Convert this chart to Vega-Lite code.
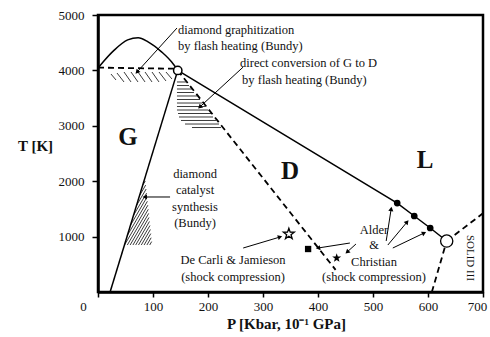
{
  "$schema": "https://vega.github.io/schema/vega-lite/v6.json",
  "width": 385,
  "height": 277,
  "autosize": {"type": "none"},
  "padding": {"left": 98, "top": 15, "right": 7, "bottom": 45},
  "background": "white",
  "config": {
    "view": {"stroke": "black", "strokeWidth": 2.5},
    "font": "Liberation Serif",
    "text": {"font": "Liberation Serif", "color": "#111", "baseline": "middle"}
  },
  "datasets": {
    "melt": [
      {"P": 0, "T": 4040}, {"P": 10, "T": 4160}, {"P": 30, "T": 4370}, {"P": 54, "T": 4550},
      {"P": 73, "T": 4590}, {"P": 91, "T": 4515}, {"P": 116, "T": 4330}, {"P": 134, "T": 4150},
      {"P": 145, "T": 4000}
    ],
    "solid": [
      {"line": "graphite-diamond", "P": 22, "T": 0},
      {"line": "graphite-diamond", "P": 145, "T": 4000},
      {"line": "diamond-liquid", "P": 145, "T": 4000},
      {"line": "diamond-liquid", "P": 544, "T": 1606},
      {"line": "diamond-liquid", "P": 575, "T": 1372},
      {"line": "diamond-liquid", "P": 604, "T": 1155},
      {"line": "diamond-liquid", "P": 634, "T": 920}
    ],
    "dashed": [
      {"line": "graphite-liquid metastable", "P": 0, "T": 4050},
      {"line": "graphite-liquid metastable", "P": 140, "T": 4030},
      {"line": "diamond metastable", "P": 145, "T": 4000},
      {"line": "diamond metastable", "P": 432, "T": 400},
      {"line": "solid III-liquid", "P": 634, "T": 920},
      {"line": "solid III-liquid", "P": 700, "T": 1420},
      {"line": "diamond-solid III", "P": 607, "T": 0},
      {"line": "diamond-solid III", "P": 634, "T": 920}
    ],
    "hatch": [
      {"P": 23.6, "T": 3935, "P2": 32.7, "T2": 3827},
      {"P": 34.5, "T": 3953, "P2": 47.3, "T2": 3791},
      {"P": 47.3, "T": 3971, "P2": 60, "T2": 3791},
      {"P": 60, "T": 3971, "P2": 72.7, "T2": 3791},
      {"P": 72.7, "T": 3971, "P2": 85.5, "T2": 3791},
      {"P": 85.5, "T": 3971, "P2": 98.2, "T2": 3791},
      {"P": 98.2, "T": 3971, "P2": 110.9, "T2": 3791},
      {"P": 110.9, "T": 3971, "P2": 123.6, "T2": 3809},
      {"P": 123.6, "T": 3971, "P2": 134.5, "T2": 3845},

      {"P": 143.6, "T": 3791, "P2": 160, "T2": 3791},
      {"P": 143.6, "T": 3727, "P2": 165.5, "T2": 3727},
      {"P": 143.6, "T": 3664, "P2": 170.9, "T2": 3664},
      {"P": 143.6, "T": 3601, "P2": 174.5, "T2": 3601},
      {"P": 143.6, "T": 3538, "P2": 180, "T2": 3538},
      {"P": 143.6, "T": 3475, "P2": 185.5, "T2": 3475},
      {"P": 143.6, "T": 3411, "P2": 189.1, "T2": 3411},
      {"P": 143.6, "T": 3348, "P2": 194.5, "T2": 3348},
      {"P": 143.6, "T": 3285, "P2": 200, "T2": 3285},
      {"P": 145.5, "T": 3222, "P2": 205.5, "T2": 3222},
      {"P": 147.3, "T": 3159, "P2": 209.1, "T2": 3159},
      {"P": 150.9, "T": 3096, "P2": 214.5, "T2": 3096},
      {"P": 158.2, "T": 3032, "P2": 220, "T2": 3032},
      {"P": 170.9, "T": 2969, "P2": 223.6, "T2": 2969},

      {"P": 48.2, "T": 848, "P2": 90.7, "T2": 1567},
      {"P": 53.8, "T": 1029, "P2": 89.8, "T2": 1637},
      {"P": 59.3, "T": 1209, "P2": 89.1, "T2": 1713},
      {"P": 64.9, "T": 1390, "P2": 88.4, "T2": 1785},
      {"P": 70.5, "T": 1570, "P2": 87.6, "T2": 1859},
      {"P": 76.2, "T": 1751, "P2": 86.7, "T2": 1930},
      {"P": 81.6, "T": 1931, "P2": 86.0, "T2": 2005},
      {"P": 53.3, "T": 848, "P2": 91.5, "T2": 1493},
      {"P": 58.4, "T": 848, "P2": 92.2, "T2": 1419},
      {"P": 63.5, "T": 848, "P2": 92.7, "T2": 1345},
      {"P": 68.5, "T": 848, "P2": 93.6, "T2": 1273},
      {"P": 73.6, "T": 848, "P2": 94.5, "T2": 1200},
      {"P": 78.7, "T": 848, "P2": 95.3, "T2": 1128},
      {"P": 83.8, "T": 848, "P2": 96.0, "T2": 1054},
      {"P": 88.9, "T": 848, "P2": 96.7, "T2": 980},
      {"P": 94.0, "T": 848, "P2": 97.6, "T2": 910}
    ],
    "arrows": [
      {"P": 71, "T": 3971, "Pt": 143.6, "Tt": 4765},
      {"P": 185, "T": 3339, "Pt": 264, "Tt": 4061},
      {"P": 85, "T": 1715, "Pt": 131, "Tt": 1715},
      {"P": 331, "T": 993, "Pt": 264, "Tt": 794},
      {"P": 400, "T": 794, "Pt": 458, "Tt": 884},
      {"P": 453, "T": 722, "Pt": 469, "Tt": 866},
      {"P": 533, "T": 1498, "Pt": 524, "Tt": 921},
      {"P": 562, "T": 1264, "Pt": 527, "Tt": 848},
      {"P": 593, "T": 1065, "Pt": 536, "Tt": 794}
    ],
    "alder_christian": [
      {"P": 544, "T": 1606}, {"P": 575, "T": 1372}, {"P": 604, "T": 1155}
    ],
    "triple_gdl": [{"P": 145, "T": 4000}],
    "triple_d3l": [{"P": 634, "T": 920}],
    "decarli": [{"P": 347, "T": 1047}],
    "shock_square": [{"P": 382, "T": 776}],
    "shock_star": [{"P": 434, "T": 614}],
    "phases": [
      {"label": "G", "P": 54.5, "T": 2798},
      {"label": "D", "P": 349, "T": 2184},
      {"label": "L", "P": 594.5, "T": 2383}
    ],
    "notes_left": [
      {"label": "diamond graphitization", "P": 145.5, "T": 4729},
      {"label": "by flash heating (Bundy)", "P": 145.5, "T": 4440},
      {"label": "direct conversion of G to D", "P": 258.2, "T": 4133},
      {"label": "by flash heating (Bundy)", "P": 262, "T": 3827}
    ],
    "notes_center": [
      {"label": "diamond", "P": 176.4, "T": 2130},
      {"label": "catalyst", "P": 176.4, "T": 1841},
      {"label": "synthesis", "P": 176.4, "T": 1534},
      {"label": "(Bundy)", "P": 176.4, "T": 1245},
      {"label": "De Carli & Jamieson", "P": 245.5, "T": 578},
      {"label": "(shock compression)", "P": 245.5, "T": 271},
      {"label": "Alder", "P": 501.8, "T": 1119},
      {"label": "&", "P": 501.8, "T": 848},
      {"label": "Christian", "P": 501.8, "T": 541},
      {"label": "(shock compression)", "P": 501.8, "T": 271}
    ],
    "solid3": [{"label": "SOLID III", "P": 676, "T": 614}]
  },
  "encoding": {
    "x": {
      "field": "P",
      "type": "quantitative",
      "scale": {"domain": [0, 700], "nice": false, "zero": false},
      "axis": {
        "title": "P [Kbar, 10⁻¹ GPa]",
        "values": [0, 100, 200, 300, 400, 500, 600, 700],
        "format": "d",
        "grid": false,
        "domainColor": "black",
        "domainWidth": 2.5,
        "tickColor": "black",
        "tickWidth": 1.5,
        "tickSize": 5,
        "labelFont": "Liberation Serif",
        "labelFontSize": 13,
        "labelColor": "#111",
        "labelPadding": 3,
        "labelFlush": false,
        "labelOverlap": false,
        "labelOffset": {"condition": [{"test": "datum.value === 0", "value": -15}, {"test": "datum.value === 700", "value": -6}], "value": 0},
        "titleFont": "Liberation Serif",
        "titleFontSize": 15,
        "titleFontWeight": "bold",
        "titleColor": "#111",
        "titleX": 188,
        "titleY": 31,
        "titleBaseline": "middle"
      }
    },
    "y": {
      "field": "T",
      "type": "quantitative",
      "scale": {"domain": [0, 5000], "nice": false, "zero": false},
      "axis": {
        "title": "T [K]",
        "values": [1000, 2000, 3000, 4000, 5000],
        "format": "d",
        "grid": false,
        "domainColor": "black",
        "domainWidth": 2.5,
        "tickColor": "black",
        "tickWidth": 1.5,
        "tickSize": 6,
        "labelFont": "Liberation Serif",
        "labelFontSize": 13,
        "labelColor": "#111",
        "labelPadding": 8,
        "labelFlush": false,
        "labelOverlap": false,
        "titleFont": "Liberation Serif",
        "titleFontSize": 15,
        "titleFontWeight": "bold",
        "titleColor": "#111",
        "titleAngle": 0,
        "titleX": -63,
        "titleY": 130,
        "titleAlign": "center",
        "titleBaseline": "middle"
      }
    }
  },
  "layer": [
    {
      "data": {"name": "hatch"},
      "mark": {"type": "rule", "color": "#3a3a3a", "strokeWidth": 1},
      "encoding": {
        "x2": {"field": "P2"},
        "y2": {"field": "T2"}
      }
    },
    {
      "data": {"name": "melt"},
      "mark": {"type": "line", "color": "black", "strokeWidth": 1.5, "interpolate": "monotone"},
      "encoding": {}
    },
    {
      "data": {"name": "solid"},
      "mark": {"type": "line", "color": "black", "strokeWidth": 1.5},
      "encoding": {"detail": {"field": "line"}}
    },
    {
      "data": {"name": "dashed"},
      "mark": {"type": "line", "color": "black", "strokeWidth": 1.8, "strokeDash": [6, 4]},
      "encoding": {"detail": {"field": "line"}}
    },
    {
      "data": {"name": "arrows"},
      "mark": {"type": "rule", "color": "black", "strokeWidth": 1},
      "encoding": {
        "x2": {"field": "Pt"},
        "y2": {"field": "Tt"}
      }
    },
    {
      "data": {"name": "arrows"},
      "mark": {
        "type": "point",
        "shape": "triangle-up",
        "filled": true,
        "color": "black",
        "opacity": 1,
        "size": 26,
        "angle": {"expr": "atan2(scale('x', datum.P) - scale('x', datum.Pt), scale('y', datum.Tt) - scale('y', datum.T)) * 180 / PI"}
      },
      "encoding": {}
    },
    {
      "data": {"name": "alder_christian"},
      "mark": {"type": "point", "shape": "circle", "filled": true, "color": "black", "opacity": 1, "size": 45},
      "encoding": {}
    },
    {
      "data": {"name": "triple_gdl"},
      "mark": {"type": "point", "shape": "circle", "filled": true, "fill": "white", "stroke": "black", "strokeWidth": 1.5, "opacity": 1, "size": 70},
      "encoding": {}
    },
    {
      "data": {"name": "triple_d3l"},
      "mark": {"type": "point", "shape": "circle", "filled": true, "fill": "white", "stroke": "black", "strokeWidth": 1.3, "opacity": 1, "size": 150},
      "encoding": {}
    },
    {
      "data": {"name": "decarli"},
      "mark": {"type": "point", "shape": "M0,-1L0.235,-0.324L0.951,-0.309L0.38,0.124L0.588,0.809L0,0.4L-0.588,0.809L-0.38,0.124L-0.951,-0.309L-0.235,-0.324Z", "filled": true, "fill": "white", "stroke": "black", "strokeWidth": 1.3, "opacity": 1, "size": 130},
      "encoding": {}
    },
    {
      "data": {"name": "shock_square"},
      "mark": {"type": "point", "shape": "square", "filled": true, "color": "black", "opacity": 1, "size": 40},
      "encoding": {}
    },
    {
      "data": {"name": "shock_star"},
      "mark": {"type": "point", "shape": "M0,-1L0.235,-0.324L0.951,-0.309L0.38,0.124L0.588,0.809L0,0.4L-0.588,0.809L-0.38,0.124L-0.951,-0.309L-0.235,-0.324Z", "filled": true, "color": "black", "opacity": 1, "size": 90},
      "encoding": {}
    },
    {
      "data": {"name": "phases"},
      "mark": {"type": "text", "fontSize": 25, "fontWeight": "bold", "align": "center"},
      "encoding": {"text": {"field": "label"}}
    },
    {
      "data": {"name": "notes_left"},
      "mark": {"type": "text", "fontSize": 12.5, "align": "left"},
      "encoding": {"text": {"field": "label"}}
    },
    {
      "data": {"name": "notes_center"},
      "mark": {"type": "text", "fontSize": 12.5, "align": "center"},
      "encoding": {"text": {"field": "label"}}
    },
    {
      "data": {"name": "solid3"},
      "mark": {"type": "text", "fontSize": 11, "align": "center", "angle": 90},
      "encoding": {"text": {"field": "label"}}
    }
  ]
}
